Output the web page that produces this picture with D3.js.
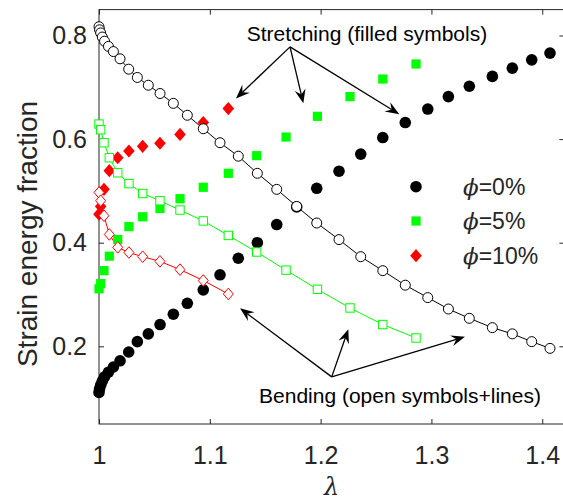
<!DOCTYPE html>
<html>
<head>
<meta charset="utf-8">
<script src="https://cdn.jsdelivr.net/npm/d3@7/dist/d3.min.js"></script>
<style>
  html, body { margin: 0; padding: 0; background: #fff; }
  svg { display: block; }
  text { font-family: "Liberation Sans", Arial, Helvetica, sans-serif; fill: #262626; }
</style>
</head>
<body>
<div id="chart"></div>
<script>
// Stretch ratio samples for the unfilled network (phi = 0%)
const lambda0 = [1.000, 1.0005, 1.0015, 1.003, 1.005, 1.0085, 1.013, 1.019, 1.0268, 1.0346,
  1.0445, 1.0551, 1.0671, 1.0797, 1.0941, 1.1092, 1.1257, 1.1429, 1.1604, 1.1784,
  1.1965, 1.2166, 1.2362, 1.2561, 1.2764, 1.2967, 1.3153, 1.3342, 1.3550, 1.3730,
  1.3905, 1.4070];
const bend0 = [0.817, 0.811, 0.805, 0.797, 0.789, 0.779, 0.769, 0.755, 0.735, 0.719,
  0.704, 0.688, 0.669, 0.646, 0.620, 0.593, 0.567, 0.534, 0.503, 0.470,
  0.438, 0.406, 0.373, 0.346, 0.318, 0.294, 0.272, 0.254, 0.236, 0.224,
  0.209, 0.196];
const stretch0 = [0.111, 0.118, 0.125, 0.133, 0.141, 0.150, 0.160, 0.172, 0.189, 0.209,
  0.224, 0.242, 0.262, 0.283, 0.309, 0.338, 0.370, 0.400, 0.435, 0.469,
  0.505, 0.538, 0.571, 0.603, 0.632, 0.658, 0.682, 0.702, 0.721, 0.737,
  0.753, 0.766];

// Stretch ratio samples for the filled networks (phi = 5% and 10%)
const lambdaF = [1.000, 1.0015, 1.0045, 1.0093, 1.0169, 1.027, 1.0394, 1.055, 1.0731,
  1.0941, 1.1167, 1.1423, 1.1688, 1.1971, 1.2265, 1.2561, 1.2861];
const bend5 = [0.629, 0.618, 0.593, 0.564, 0.535, 0.514, 0.495, 0.481, 0.463,
  0.442, 0.414, 0.382, 0.347, 0.310, 0.274, 0.242, 0.216];
const stretch5 = [0.311, 0.321, 0.346, 0.374, 0.406, 0.431, 0.450, 0.466, 0.485,
  0.507, 0.534, 0.568, 0.604, 0.644, 0.682, 0.716, 0.745];
const bend10 = [0.497, 0.481, 0.452, 0.416, 0.391, 0.381, 0.373, 0.364, 0.348, 0.327, 0.301];
const stretch10 = [0.455, 0.470, 0.503, 0.539, 0.564, 0.577, 0.586, 0.592, 0.609, 0.632, 0.659];

const xTicks = [1, 1.1, 1.2, 1.3, 1.4];
const yTicks = [0.2, 0.4, 0.6, 0.8];
const legendLabels = ["=0%", "=5%", "=10%"];
const seriesColors = ["#000000", "#00ff00", "#ff0000"];

const W = 563, H = 504;
const margin = { left: 99, top: 9.6, right: -1.4, bottom: 80 };

const x = d3.scaleLinear().domain([1, 1.42]).range([margin.left, W - margin.right]);
const y = d3.scaleLinear().domain([0.05, 0.85]).range([H - margin.bottom, margin.top]);

const svg = d3.select("#chart").append("svg")
  .attr("width", W).attr("height", H);

const axisColor = "#262626";

// Plot frame
svg.append("rect")
  .attr("x", x(1)).attr("y", y(0.85))
  .attr("width", x(1.42) - x(1)).attr("height", y(0.05) - y(0.85))
  .attr("fill", "none").attr("stroke", axisColor).attr("stroke-width", 1);

// Axes with inward ticks
const tickLen = 5;
const xAxis = svg.append("g").attr("transform", `translate(0,${y(0.05)})`)
  .call(d3.axisBottom(x).tickValues(xTicks).tickSizeInner(-tickLen).tickSizeOuter(0)
    .tickPadding(22).tickFormat(d3.format("")));
const xAxisTop = svg.append("g").attr("transform", `translate(0,${y(0.85)})`)
  .call(d3.axisTop(x).tickValues(xTicks).tickSizeInner(-tickLen).tickSizeOuter(0).tickFormat(""));
const yAxis = svg.append("g").attr("transform", `translate(${x(1)},0)`)
  .call(d3.axisLeft(y).tickValues(yTicks).tickSizeInner(-tickLen).tickSizeOuter(0)
    .tickPadding(12).tickFormat(d3.format("")));
const yAxisRight = svg.append("g").attr("transform", `translate(${x(1.42)},0)`)
  .call(d3.axisRight(y).tickValues(yTicks).tickSizeInner(-tickLen).tickSizeOuter(0).tickFormat(""));

[xAxis, xAxisTop, yAxis, yAxisRight].forEach(g => {
  g.select(".domain").remove();
  g.selectAll(".tick line").attr("stroke", axisColor);
  g.selectAll(".tick text")
    .attr("fill", axisColor)
    .style("font-family", '"Liberation Sans", Arial, sans-serif')
    .style("font-size", "25px");
});

// Axis titles
svg.append("text")
  .attr("transform", `translate(37,234) rotate(-90)`)
  .attr("text-anchor", "middle")
  .style("font-size", "28px")
  .text("Strain energy fraction");

svg.append("text")
  .attr("x", (x(1) + x(1.42)) / 2).attr("y", 495)
  .attr("text-anchor", "middle")
  .style("font-family", '"DejaVu Serif", "Liberation Serif", serif')
  .style("font-style", "italic")
  .style("font-size", "24px")
  .text("λ");

// Series helpers
const pts = (xs, ys) => xs.slice(0, ys.length).map((l, i) => [l, ys[i]]);
const line = d3.line().x(d => x(d[0])).y(d => y(d[1]));

const plot = svg.append("g");

// Bending curves (lines + open symbols)
plot.append("path").datum(pts(lambda0, bend0)).attr("d", line)
  .attr("fill", "none").attr("stroke", "#000").attr("stroke-width", 1);
plot.append("path").datum(pts(lambdaF, bend5)).attr("d", line)
  .attr("fill", "none").attr("stroke", "#00ff00").attr("stroke-width", 1);
plot.append("path").datum(pts(lambdaF, bend10)).attr("d", line)
  .attr("fill", "none").attr("stroke", "#ff0000").attr("stroke-width", 1);

const diamondPath = (w, h) => `M0,${-h}L${w},0L0,${h}L${-w},0Z`;

// Filled stretching symbols
plot.selectAll(".s0").data(pts(lambda0, stretch0)).join("circle")
  .attr("cx", d => x(d[0])).attr("cy", d => y(d[1])).attr("r", 5.8)
  .attr("fill", "#000");
plot.selectAll(".s5").data(pts(lambdaF, stretch5)).join("rect")
  .attr("x", d => x(d[0]) - 4.6).attr("y", d => y(d[1]) - 4.6)
  .attr("width", 9.2).attr("height", 9.2).attr("fill", "#00ff00");
plot.selectAll(".s10").data(pts(lambdaF, stretch10)).join("path")
  .attr("transform", d => `translate(${x(d[0])},${y(d[1])})`)
  .attr("d", diamondPath(5.8, 6.6)).attr("fill", "#ff0000");

// Open bending symbols
plot.selectAll(".b0").data(pts(lambda0, bend0)).join("circle")
  .attr("cx", d => x(d[0])).attr("cy", d => y(d[1])).attr("r", 5)
  .attr("fill", "#fff").attr("stroke", "#000").attr("stroke-width", 1);
plot.selectAll(".b5").data(pts(lambdaF, bend5)).join("rect")
  .attr("x", d => x(d[0]) - 4.2).attr("y", d => y(d[1]) - 4.2)
  .attr("width", 8.4).attr("height", 8.4)
  .attr("fill", "#fff").attr("stroke", "#00ff00").attr("stroke-width", 1);
plot.selectAll(".b10").data(pts(lambdaF, bend10)).join("path")
  .attr("transform", d => `translate(${x(d[0])},${y(d[1])})`)
  .attr("d", diamondPath(5, 5.8))
  .attr("fill", "#fff").attr("stroke", "#ff0000").attr("stroke-width", 1);

// Legend
const legend = svg.append("g");
const legY = [186.7, 221, 255.7];
legend.append("circle").attr("cx", 416).attr("cy", legY[0]).attr("r", 5.8).attr("fill", seriesColors[0]);
legend.append("rect").attr("x", 416 - 4.6).attr("y", legY[1] - 4.6).attr("width", 9.2).attr("height", 9.2)
  .attr("fill", seriesColors[1]);
legend.append("path").attr("transform", `translate(416,${legY[2]})`).attr("d", diamondPath(5.8, 6.6))
  .attr("fill", seriesColors[2]);
legendLabels.forEach((lab, i) => {
  const t = legend.append("text").attr("x", 463).attr("y", legY[i] + 8).style("font-size", "23px");
  t.append("tspan")
    .style("font-family", '"DejaVu Serif", "Liberation Serif", serif')
    .style("font-style", "italic").text("ϕ");
  t.append("tspan").text(lab);
});

// Annotation arrows
function arrow(x0, y0, x1, y1) {
  const g = svg.append("g");
  const ang = Math.atan2(y1 - y0, x1 - x0);
  const L = 14, hw = 5.5, notch = 9;
  const ca = Math.cos(ang), sa = Math.sin(ang);
  const bx = x1 - L * ca, by = y1 - L * sa;
  const nx = x1 - notch * ca, ny = y1 - notch * sa;
  g.append("line").attr("x1", x0).attr("y1", y0).attr("x2", nx).attr("y2", ny)
    .attr("stroke", "#000").attr("stroke-width", 1.3);
  g.append("path")
    .attr("d", `M${x1},${y1}L${bx - hw * sa},${by + hw * ca}L${nx},${ny}L${bx + hw * sa},${by - hw * ca}Z`)
    .attr("fill", "#000");
}

const stretchFrom = [1.1724, 0.778];
[[1.1236, 0.6785], [1.1844, 0.669], [1.271, 0.648]].forEach(t =>
  arrow(x(stretchFrom[0]), y(stretchFrom[1]), x(t[0]), y(t[1])));
const bendFrom = [1.21, 0.141];
[[1.1273, 0.2734], [1.225, 0.233], [1.3303, 0.2185]].forEach(t =>
  arrow(x(bendFrom[0]), y(bendFrom[1]), x(t[0]), y(t[1])));

svg.append("text").attr("x", 367).attr("y", 41).attr("text-anchor", "middle")
  .style("font-size", "21px").style("fill", "#000")
  .text("Stretching (filled symbols)");
svg.append("text").attr("x", 400).attr("y", 403).attr("text-anchor", "middle")
  .style("font-size", "21px").style("fill", "#000")
  .text("Bending (open symbols+lines)");
</script>
</body>
</html>
